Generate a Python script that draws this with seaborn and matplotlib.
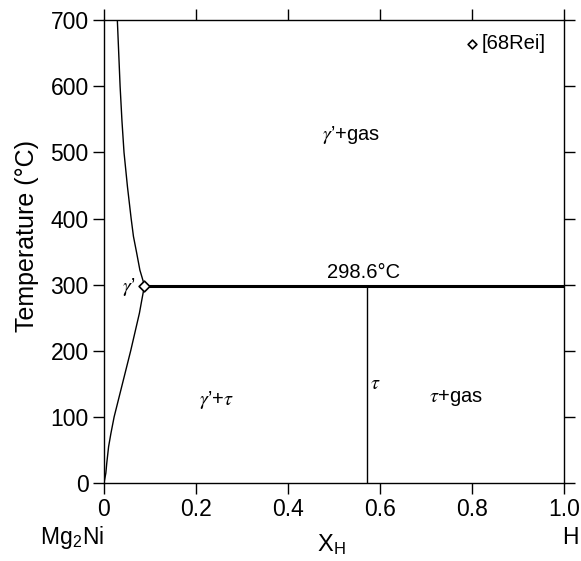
"""Mg2Ni-H phase diagram redrawn with seaborn."""

import matplotlib

matplotlib.use("Agg")
import matplotlib.pyplot as plt
import pandas as pd
import seaborn as sns

# phase boundary of gamma' (upper, towards gas)
upper_x = [0.088, 0.078, 0.071, 0.064, 0.059, 0.051, 0.0435, 0.039, 0.035, 0.032, 0.029]
upper_t = [298.6, 322, 348, 373, 400, 448, 500, 548, 600, 650, 700]

# lower boundary of gamma' (towards tau)
lower_x = [0.0, 0.004, 0.006, 0.010, 0.015, 0.022, 0.031, 0.040, 0.049, 0.058, 0.068, 0.077, 0.083, 0.088]
lower_t = [0, 15, 30, 55, 75, 100, 125, 150, 175, 200, 230, 257, 280, 298.6]

# horizontal invariant and the tau line compound
eut_x = [0.088, 1.0]
eut_t = [298.6, 298.6]
tau_x = [0.571, 0.571]
tau_t = [0, 298.6]

# experimental point [68Rei]
exp_x = [0.088]
exp_t = [298.6]

region_labels = ["$\\gamma$’+gas", "$\\gamma$’+$\\tau$", "$\\tau$", "$\\tau$+gas", "$\\gamma$’"]
region_x = [0.538, 0.245, 0.59, 0.765, 0.068]
region_t = [526, 125, 150, 128, 296]

xticks = [0, 0.2, 0.4, 0.6, 0.8, 1.0]
xticklabels = ["0", "0.2", "0.4", "0.6", "0.8", "1.0"]
yticks = [0, 100, 200, 300, 400, 500, 600, 700]

sns.set_theme(style="ticks")
plt.rcParams["font.family"] = ["Liberation Sans", "DejaVu Sans"]
plt.rcParams["mathtext.fontset"] = "stix"
plt.rcParams["text.color"] = "black"
plt.rcParams["axes.labelcolor"] = "black"

fig = plt.figure(figsize=(5.81, 5.61), dpi=100)
ax = fig.add_axes([0.179, 0.139, 0.792, 0.825])

upper = pd.DataFrame({"x": upper_x, "t": upper_t})
lower = pd.DataFrame({"x": lower_x, "t": lower_t})
sns.lineplot(data=upper, x="x", y="t", sort=False, estimator=None, color="black", lw=1.0, ax=ax)
sns.lineplot(data=lower, x="x", y="t", sort=False, estimator=None, color="black", lw=1.0, ax=ax)
sns.lineplot(x=eut_x, y=eut_t, sort=False, estimator=None, color="black", lw=2.2, ax=ax)
sns.lineplot(x=tau_x, y=tau_t, sort=False, estimator=None, color="black", lw=1.0, ax=ax)
sns.scatterplot(x=exp_x, y=exp_t, marker="D", s=30, facecolor="white", edgecolor="black",
                linewidth=1.2, zorder=5, ax=ax)

ax.set_xlim(0, 1.0)
ax.set_ylim(0, 700)
ax.set_xticks(xticks)
ax.set_xticklabels(xticklabels)
ax.set_yticks(yticks)
for side in ["top", "right", "left", "bottom"]:
    ax.spines[side].set_visible(True)
    ax.spines[side].set_linewidth(1.0)
    ax.spines[side].set_color("black")
ax.tick_params(direction="out", length=8, width=1.0, colors="black", labelsize=16.5, pad=3,
               top=True, right=True, labeltop=False, labelright=False)

ax.set_xlabel("")
ax.set_ylabel("")
ax.text(-0.167, 0.533, "Temperature (°C)", fontsize=18, rotation=90, ha="center", va="center",
        color="black", transform=ax.transAxes)

for lab, x, t in zip(region_labels, region_x, region_t):
    ha = "right" if lab == region_labels[-1] else "center"
    ax.text(x, t, lab, fontsize=14.5, ha=ha, va="center", color="black")

ax.text(0.565, 304, "298.6°C", fontsize=14.5, ha="center", va="bottom", color="black")

# legend for the data source
sns.scatterplot(x=[0.80], y=[664], marker="D", s=20, facecolor="white", edgecolor="black",
                linewidth=1.2, ax=ax, clip_on=False)
ax.text(0.82, 664, "[68Rei]", fontsize=14.5, ha="left", va="center", color="black")

trans = ax.get_xaxis_transform()
ax.text(0.0, -0.117, "Mg$_\\mathregular{2}$Ni", fontsize=16.5, ha="right", va="center",
        color="black", transform=trans)
ax.text(1.013, -0.117, "H", fontsize=16.5, ha="center", va="center", color="black", transform=trans)
ax.text(0.495, -0.134, "X$_\\mathregular{H}$", fontsize=17, ha="center", va="center",
        color="black", transform=trans)

fig.savefig("out.png", dpi=100)
